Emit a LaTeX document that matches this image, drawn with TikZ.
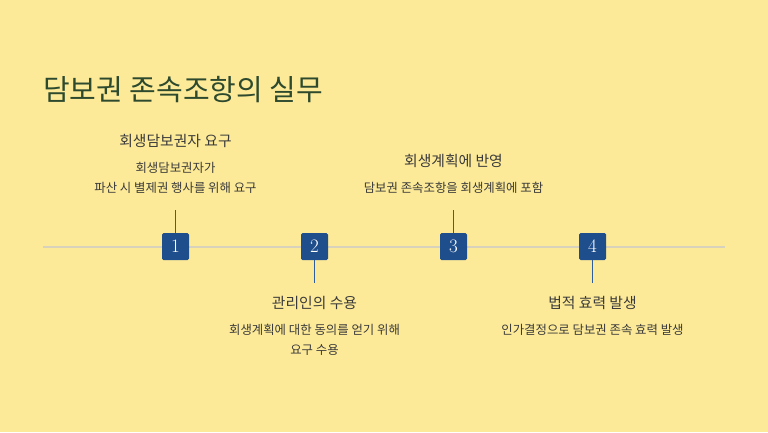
\documentclass[tikz,border=0pt]{standalone}
\usepackage{fontspec}
\newfontfamily\kr{Noto Sans CJK KR}
\definecolor{bg}{RGB}{253,234,152}
\definecolor{titlec}{RGB}{46,74,46}
\definecolor{textc}{RGB}{58,58,58}
\definecolor{boxc}{RGB}{31,78,140}
\definecolor{linkc}{RGB}{46,94,158}
\definecolor{axisc}{RGB}{216,210,188}
\tikzset{
  numbox/.style={fill=boxc, rounded corners=1.5pt, minimum width=27pt, minimum height=27pt, inner sep=0pt, text=white, font=\fontsize{19}{19}\selectfont},
  head/.style={inner sep=0pt, text=textc, font=\kr\fontsize{14.8}{16}\selectfont},
  desc/.style={inner sep=0pt, text=textc, align=center, font=\kr\fontsize{12.4}{20}\selectfont},
  link/.style={draw=linkc, line width=1.5pt},
  axis/.style={draw=axisc, line width=2pt}
}
\begin{document}
\begin{tikzpicture}[x=1pt,y=-1pt]
\fill[bg] (0,0) rectangle (768,432);
\useasboundingbox (0,0) rectangle (768,432);
\node[anchor=west, inner sep=0pt, text=titlec, font=\kr\fontsize{29}{32}\selectfont] (title) at (43,89.5) {담보권 존속조항의 실무};
\coordinate (axL) at (43,246.5);
\coordinate (axR) at (725,246.5);
\draw[axis] (axL) -- (axR);
\coordinate (t1) at (175.5,210);
\coordinate (t2) at (314.5,283);
\coordinate (t3) at (453.5,210);
\coordinate (t4) at (592.5,283);
\node[numbox] (b1) at (175.5,246.5) {1};
\node[numbox] (b2) at (314.5,246.5) {2};
\node[numbox] (b3) at (453.5,246.5) {3};
\node[numbox] (b4) at (592.5,246.5) {4};
\draw[link] (t1) -- (b1.north);
\draw[link] (b2.south) -- (t2);
\draw[link] (t3) -- (b3.north);
\draw[link] (b4.south) -- (t4);
\node[head] (h1) at (175.5,141) {회생담보권자 요구};
\node[desc] (d1) at (175.5,177.5) {회생담보권자가\\파산 시 별제권 행사를 위해 요구};
\node[head] (h2) at (314.5,303) {관리인의 수용};
\node[desc] (d2) at (314.5,339.5) {회생계획에 대한 동의를 얻기 위해\\요구 수용};
\node[head] (h3) at (453.5,161) {회생계획에 반영};
\node[desc] (d3) at (453.5,187.5) {담보권 존속조항을 회생계획에 포함};
\node[head] (h4) at (592.5,303) {법적 효력 발생};
\node[desc] (d4) at (592.5,330) {인가결정으로 담보권 존속 효력 발생};
\end{tikzpicture}
\end{document}
